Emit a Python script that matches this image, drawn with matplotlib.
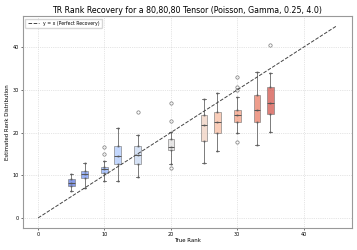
import matplotlib
matplotlib.use('Agg')
import matplotlib.pyplot as plt
import seaborn as sns
import numpy as np

ranks = [5, 7, 10, 12, 15, 20, 25, 27, 30, 33, 35]
med = [8.1, 10.4, 11.4, 14.6, 14.7, 16.7, 21.8, 22.5, 24.1, 25.2, 26.9]
q1 = [7.4, 9.4, 10.6, 12.6, 12.7, 16.0, 18.1, 20.0, 22.5, 22.4, 24.3]
q3 = [9.0, 11.0, 12.0, 16.8, 16.8, 18.5, 24.1, 24.7, 25.2, 28.7, 30.7]
whislo = [6.4, 7.1, 8.6, 8.7, 9.5, 12.6, 12.9, 15.6, 20.0, 17.0, 20.2]
whishi = [10.3, 12.9, 13.3, 21.1, 19.5, 20.1, 27.9, 29.3, 28.3, 34.2, 34.0]
fliers = [[], [], [14.9, 16.5], [], [24.8], [11.6, 22.7, 27.0], [], [],
          [17.7, 29.9, 30.6, 32.9], [], [40.5]]

stats = []
for i in range(len(ranks)):
    stats.append(dict(med=med[i], q1=q1[i], q3=q3[i], whislo=whislo[i],
                      whishi=whishi[i], fliers=fliers[i]))

colors = sns.color_palette("coolwarm", len(ranks))

fig, ax = plt.subplots(figsize=(3.57, 2.5), dpi=100)

bp = ax.bxp(stats, positions=ranks, widths=1.0, patch_artist=True, manage_ticks=False,
            boxprops=dict(edgecolor='#777777', linewidth=0.6),
            medianprops=dict(color='#555555', linewidth=0.7),
            whiskerprops=dict(color='#666666', linewidth=0.6),
            capprops=dict(color='#666666', linewidth=0.6),
            flierprops=dict(marker='o', markersize=2.4, markerfacecolor='none',
                            markeredgecolor='#777777', markeredgewidth=0.5))
for patch, c in zip(bp['boxes'], colors):
    patch.set_facecolor(c)
    patch.set_alpha(0.7)

# faint dots at the summary values
for i, r in enumerate(ranks):
    vals = [whislo[i], q1[i], med[i], q3[i], whishi[i]]
    ax.scatter([r] * len(vals), vals, s=0.6, color='#555555', alpha=0.5, zorder=3)

ax.plot([0, 45], [0, 45], '--', color='#444444', linewidth=0.7, label='y = x (Perfect Recovery)')

ax.set_xlim(-2.25, 47.25)
ax.set_ylim(-2.25, 47.25)
ax.set_xticks([0, 10, 20, 30, 40])
ax.set_yticks([0, 10, 20, 30, 40])
ax.tick_params(labelsize=3.5, length=1.5, width=0.4, pad=1.5)
ax.grid(True, linestyle=':', color='#cccccc', linewidth=0.5)
ax.set_axisbelow(True)
for s in ax.spines.values():
    s.set_color('#999999')
    s.set_linewidth(0.8)

ax.set_title('TR Rank Recovery for a 80,80,80 Tensor (Poisson, Gamma, 0.25, 4.0)', fontsize=5.7, pad=2.5)
ax.set_xlabel('True Rank', fontsize=3.9, labelpad=1)
ax.set_ylabel('Estimated Rank Distribution', fontsize=3.9, labelpad=2)
ax.legend(loc='upper left', fontsize=3.3, frameon=True, handlelength=2.5, borderpad=0.5)

fig.subplots_adjust(left=0.065, right=0.985, bottom=0.09, top=0.935)
fig.savefig('out.png', dpi=100)
